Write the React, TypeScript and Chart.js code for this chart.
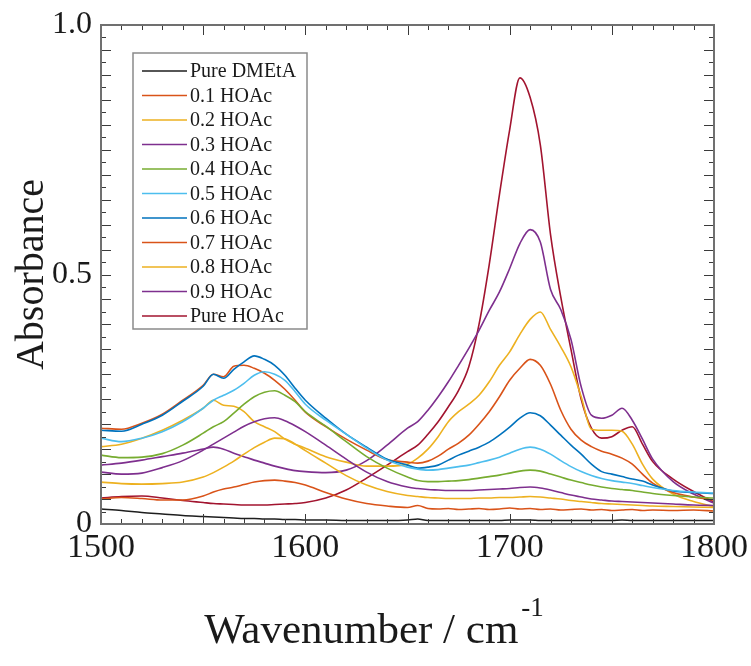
import React, { useEffect, useRef } from "react";
import { Chart, registerables } from "chart.js";

Chart.register(...registerables);

// Wavenumber grid (cm^-1)
const wavenumbers = [
  1500, 1510, 1520, 1530, 1540,
  1550, 1555, 1560, 1565, 1570, 1575, 1580, 1585, 1590, 1595, 1600,
  1610, 1620, 1630, 1640, 1650,
  1655, 1660, 1665, 1670, 1675, 1680, 1685, 1690, 1695, 1700, 1705, 1710,
  1715, 1720, 1725, 1730, 1735, 1740, 1745, 1750, 1755, 1760, 1765, 1770,
  1780, 1790, 1800,
];

const pureDMEtA = [
  0.030, 0.027, 0.023, 0.020, 0.017,
  0.015, 0.014, 0.013, 0.012, 0.011, 0.011, 0.010, 0.010, 0.009, 0.009, 0.008,
  0.008, 0.007, 0.007, 0.007, 0.008,
  0.010, 0.007, 0.007, 0.007, 0.007, 0.007, 0.007, 0.007, 0.007, 0.008, 0.008, 0.008,
  0.007, 0.007, 0.007, 0.007, 0.007, 0.007, 0.007, 0.007, 0.008, 0.007, 0.007, 0.007,
  0.007, 0.007, 0.007,
];

const hoac01 = [
  0.050, 0.053, 0.051, 0.048, 0.048,
  0.056, 0.064, 0.070, 0.074, 0.079, 0.084, 0.087, 0.088, 0.086, 0.083, 0.078,
  0.063, 0.050, 0.041, 0.036, 0.033,
  0.037, 0.031, 0.030, 0.031, 0.029, 0.030, 0.031, 0.029, 0.030, 0.032, 0.030, 0.031,
  0.029, 0.030, 0.028, 0.029, 0.030, 0.028, 0.029, 0.027, 0.028, 0.029, 0.027, 0.028,
  0.027, 0.028, 0.026,
];

const hoac02 = [
  0.084, 0.081, 0.080, 0.081, 0.084,
  0.094, 0.103, 0.114, 0.126, 0.140, 0.153, 0.164, 0.172, 0.171, 0.160, 0.147,
  0.122, 0.097, 0.078, 0.065, 0.057,
  0.055, 0.053, 0.052, 0.051, 0.051, 0.051, 0.052, 0.052, 0.053, 0.053, 0.054, 0.055,
  0.054, 0.052, 0.050, 0.047, 0.045, 0.043, 0.041, 0.040, 0.039, 0.038, 0.037, 0.036,
  0.035, 0.034, 0.033,
];

const hoac03 = [
  0.104, 0.100, 0.102, 0.113, 0.127,
  0.148, 0.160, 0.172, 0.184, 0.196, 0.205, 0.211, 0.213, 0.207, 0.197, 0.185,
  0.158, 0.130, 0.104, 0.085, 0.074,
  0.071, 0.069, 0.068, 0.067, 0.067, 0.067, 0.068, 0.069, 0.070, 0.071, 0.073, 0.074,
  0.072, 0.068, 0.063, 0.058, 0.054, 0.050, 0.048, 0.046, 0.045, 0.044, 0.043, 0.042,
  0.040, 0.038, 0.037,
];

const hoac04 = [
  0.138, 0.133, 0.134, 0.141, 0.158,
  0.182, 0.195, 0.205, 0.222, 0.240, 0.255, 0.264, 0.267, 0.258, 0.245, 0.225,
  0.196, 0.165, 0.135, 0.112, 0.094,
  0.087, 0.085, 0.085, 0.086, 0.087, 0.089, 0.092, 0.095, 0.098, 0.102, 0.106, 0.108,
  0.106, 0.100, 0.094, 0.088, 0.083, 0.078, 0.074, 0.071, 0.069, 0.067, 0.064, 0.061,
  0.057, 0.054, 0.052,
];

const hoac05 = [
  0.172, 0.165, 0.172, 0.185, 0.205,
  0.232, 0.248, 0.258, 0.268, 0.282, 0.298, 0.305, 0.300, 0.288, 0.265, 0.240,
  0.208, 0.180, 0.152, 0.128, 0.114,
  0.110, 0.108, 0.109, 0.112, 0.115, 0.118, 0.123, 0.128, 0.134, 0.142, 0.150, 0.154,
  0.150, 0.140, 0.127, 0.115, 0.105, 0.097, 0.091, 0.087, 0.084, 0.081, 0.077, 0.073,
  0.067, 0.064, 0.062,
];

const hoac06 = [
  0.188, 0.186, 0.200, 0.218, 0.246,
  0.276, 0.300, 0.292, 0.310, 0.325, 0.337, 0.330, 0.318, 0.298, 0.272, 0.248,
  0.212, 0.180, 0.154, 0.130, 0.118,
  0.112, 0.114, 0.118, 0.128, 0.138, 0.146, 0.154, 0.164, 0.178, 0.194, 0.212, 0.223,
  0.217, 0.198, 0.178, 0.158, 0.140, 0.120, 0.105, 0.100, 0.095, 0.090, 0.086, 0.078,
  0.066, 0.063, 0.061,
];

const hoac07 = [
  0.192, 0.190, 0.202, 0.220, 0.248,
  0.278, 0.300, 0.295, 0.316, 0.318, 0.312, 0.302, 0.288, 0.270, 0.248, 0.224,
  0.195, 0.170, 0.148, 0.129, 0.124,
  0.122, 0.126, 0.136, 0.150, 0.162, 0.178, 0.200, 0.225, 0.255, 0.288, 0.312, 0.330,
  0.318, 0.280, 0.228, 0.190, 0.168, 0.155, 0.146, 0.140, 0.132, 0.120, 0.100, 0.082,
  0.063, 0.054, 0.048,
];

const hoac08 = [
  0.155, 0.160, 0.172, 0.188, 0.208,
  0.232, 0.248, 0.238, 0.236, 0.225, 0.205, 0.195, 0.185, 0.170, 0.160, 0.152,
  0.135, 0.124, 0.116, 0.116, 0.120,
  0.132, 0.150, 0.175, 0.205, 0.225, 0.240, 0.258, 0.285, 0.318, 0.345, 0.380, 0.410,
  0.425, 0.390, 0.355, 0.315, 0.255, 0.190, 0.188, 0.188, 0.186, 0.160, 0.120, 0.090,
  0.060, 0.045, 0.035,
];

const hoac09 = [
  0.118, 0.122, 0.128, 0.135, 0.142,
  0.150, 0.154, 0.150, 0.142, 0.135, 0.128, 0.122, 0.116, 0.111, 0.107, 0.105,
  0.103, 0.108, 0.127, 0.158, 0.192,
  0.205, 0.228, 0.255, 0.285, 0.318, 0.352, 0.388, 0.428, 0.465, 0.512, 0.562, 0.590,
  0.565, 0.470, 0.430, 0.370, 0.275, 0.218, 0.212, 0.218, 0.232, 0.208, 0.170, 0.130,
  0.085, 0.060, 0.042,
];

const pureHOAc = [
  0.052, 0.055, 0.056, 0.052, 0.047,
  0.043, 0.041, 0.040, 0.039, 0.038, 0.038, 0.038, 0.039, 0.040, 0.041, 0.043,
  0.052, 0.068, 0.092, 0.118, 0.145,
  0.158, 0.180, 0.205, 0.235, 0.268, 0.315, 0.400, 0.520, 0.660, 0.790, 0.894, 0.855,
  0.760, 0.580, 0.455, 0.350, 0.250, 0.192, 0.172, 0.175, 0.188, 0.195, 0.160, 0.125,
  0.090, 0.065, 0.044,
];

const seriesLabels = [
  "Pure DMEtA", "0.1 HOAc", "0.2 HOAc", "0.3 HOAc", "0.4 HOAc", "0.5 HOAc",
  "0.6 HOAc", "0.7 HOAc", "0.8 HOAc", "0.9 HOAc", "Pure HOAc",
];

const seriesColors = [
  "#1e1e1e", "#D95319", "#EDB120", "#7E2F8E", "#77AC30", "#4DBEEE",
  "#0072BD", "#D95319", "#EDB120", "#7E2F8E", "#A2142F",
];

const seriesValues = [
  pureDMEtA, hoac01, hoac02, hoac03, hoac04, hoac05,
  hoac06, hoac07, hoac08, hoac09, pureHOAc,
];

const xTickValues = [1500, 1600, 1700, 1800];
const yTickValues = [0, 0.5, 1.0];

const SERIF = '"Liberation Serif", "Times New Roman", Times, serif';

export default function App() {
  const ref = useRef<HTMLCanvasElement>(null);

  useEffect(() => {
    const canvas = ref.current;
    if (!canvas) return;

    const framePlugin = {
      id: "frameTicks",
      afterDatasetsDraw(chart: any) {
        const { ctx, chartArea, scales } = chart;
        const { left, right, top, bottom } = chartArea;
        const xs = scales.x;
        const ys = scales.y;
        ctx.save();
        ctx.strokeStyle = "#3a3a3a";
        ctx.lineWidth = 1;
        ctx.beginPath();
        for (let w = 1500; w <= 1800; w += 10) {
          const px = Math.round(xs.getPixelForValue(w)) + 0.5;
          const len = w % 50 === 0 ? 10 : 5;
          ctx.moveTo(px, bottom);
          ctx.lineTo(px, bottom - len);
          ctx.moveTo(px, top);
          ctx.lineTo(px, top + len);
        }
        for (let i = 0; i <= 40; i++) {
          const v = i * 0.025;
          const py = Math.round(ys.getPixelForValue(v)) + 0.5;
          const len = i % 2 === 0 ? 10 : 5;
          ctx.moveTo(left, py);
          ctx.lineTo(left + len, py);
          ctx.moveTo(right, py);
          ctx.lineTo(right - len, py);
        }
        ctx.stroke();
        ctx.strokeStyle = "#707070";
        ctx.lineWidth = 2;
        ctx.strokeRect(left, top, right - left, bottom - top);
        ctx.restore();
      },
    };

    const legendPlugin = {
      id: "boxLegend",
      afterDraw(chart: any) {
        const { ctx, chartArea } = chart;
        const bx = chartArea.left + 32;
        const by = chartArea.top + 28;
        const bw = 174;
        const bh = 276;
        ctx.save();
        ctx.fillStyle = "#ffffff";
        ctx.fillRect(bx, by, bw, bh);
        ctx.strokeStyle = "#8a8a8a";
        ctx.lineWidth = 1.5;
        ctx.strokeRect(bx, by, bw, bh);
        ctx.font = `20px ${SERIF}`;
        ctx.textBaseline = "middle";
        ctx.textAlign = "left";
        chart.data.datasets.forEach((ds: any, i: number) => {
          const yy = by + 18 + i * 24.5;
          ctx.strokeStyle = ds.borderColor;
          ctx.lineWidth = 1.5;
          ctx.beginPath();
          ctx.moveTo(bx + 9, yy);
          ctx.lineTo(bx + 54, yy);
          ctx.stroke();
          ctx.fillStyle = "#1a1a1a";
          ctx.fillText(ds.label, bx + 57, yy + 1);
        });
        ctx.restore();
      },
    };

    const xTitlePlugin = {
      id: "xTitle",
      afterDraw(chart: any) {
        const { ctx } = chart;
        ctx.save();
        ctx.fillStyle = "#1a1a1a";
        ctx.textBaseline = "alphabetic";
        ctx.textAlign = "left";
        const main = "Wavenumber / cm";
        const sup = "-1";
        ctx.font = `43px ${SERIF}`;
        const w1 = ctx.measureText(main).width;
        ctx.font = `27px ${SERIF}`;
        const w2 = ctx.measureText(sup).width;
        const total = w1 + 3 + w2;
        const x0 = 374 - total / 2;
        ctx.font = `43px ${SERIF}`;
        ctx.fillText(main, x0, 643);
        ctx.font = `27px ${SERIF}`;
        ctx.fillText(sup, x0 + w1 + 3, 616);
        ctx.restore();
      },
    };

    const chart = new Chart(canvas, {
      type: "line",
      data: {
        datasets: seriesValues.map((vals, i) => ({
          label: seriesLabels[i],
          data: wavenumbers.map((w, j) => ({ x: w, y: vals[j] })),
          borderColor: seriesColors[i],
          backgroundColor: seriesColors[i],
          borderWidth: 1.6,
          pointRadius: 0,
          cubicInterpolationMode: "monotone" as const,
          fill: false,
        })),
      },
      options: {
        responsive: false,
        animation: false,
        devicePixelRatio: 1,
        layout: { padding: { top: 25, right: 37, left: 0, bottom: 0 } },
        plugins: {
          legend: { display: false },
          tooltip: { enabled: false },
        },
        scales: {
          x: {
            type: "linear",
            min: 1500,
            max: 1800,
            afterBuildTicks: (scale: any) => {
              scale.ticks = xTickValues.map((v) => ({ value: v }));
            },
            ticks: {
              padding: 4,
              color: "#1a1a1a",
              maxRotation: 0,
              autoSkip: false,
              font: { family: SERIF, size: 34, lineHeight: 1.2 },
              callback: (v: any) => String(v),
            },
            grid: { display: false, drawTicks: false },
            border: { display: false },
            title: { display: false },
            afterFit: (scale: any) => {
              scale.height = 142;
              scale.paddingLeft = 0;
              scale.paddingRight = 0;
            },
          },
          y: {
            type: "linear",
            min: 0,
            max: 1,
            afterBuildTicks: (scale: any) => {
              scale.ticks = yTickValues.map((v) => ({ value: v }));
            },
            ticks: {
              padding: 9,
              color: "#1a1a1a",
              autoSkip: false,
              font: { family: SERIF, size: 32, lineHeight: 1.2 },
              callback: (v: any) => (Number(v) === 0 ? "0" : Number(v).toFixed(1)),
            },
            grid: { display: false, drawTicks: false },
            border: { display: false },
            title: {
              display: true,
              text: "Absorbance",
              color: "#1a1a1a",
              font: { family: SERIF, size: 40, lineHeight: 1.2 },
              padding: { top: 8, bottom: 0 },
            },
            afterFit: (scale: any) => {
              scale.width = 101;
              scale.paddingTop = 0;
              scale.paddingBottom = 0;
            },
          },
        },
      },
      plugins: [framePlugin, legendPlugin, xTitlePlugin],
    } as any);

    return () => chart.destroy();
  }, []);

  return (
    <canvas
      ref={ref}
      width={751}
      height={666}
      style={{ position: "fixed", left: 0, top: 0, display: "block", width: 751, height: 666 }}
    />
  );
}
